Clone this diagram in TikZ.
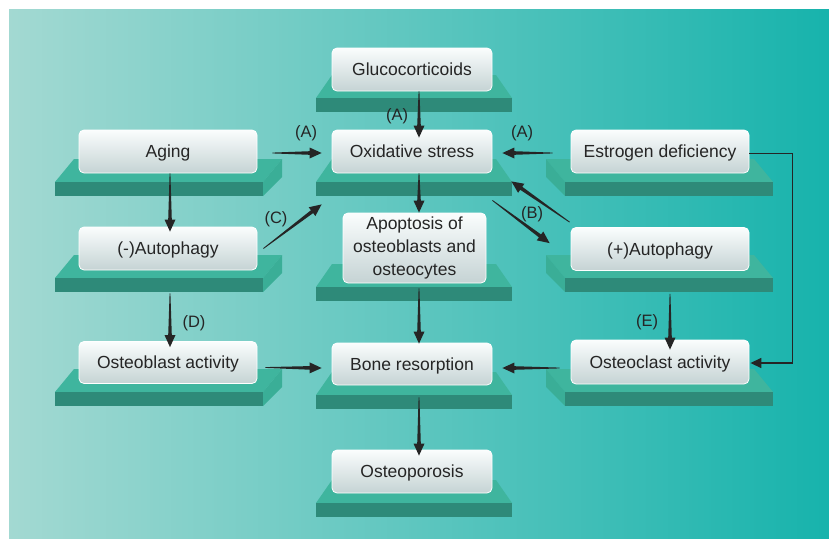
\documentclass[tikz,border=0pt]{standalone}
\usepackage{fontspec}
\setmainfont{Liberation Sans}
\usetikzlibrary{calc,arrows.meta}
\definecolor{bgL}{HTML}{A3D9D2}
\definecolor{bgM}{HTML}{5EC5BA}
\definecolor{bgR}{HTML}{17B3AC}
\definecolor{plfront}{HTML}{2E8A79}
\definecolor{pltop}{HTML}{3FB59E}
\definecolor{plside}{HTML}{3AAE97}
\definecolor{boxtop}{HTML}{FAFDFD}
\definecolor{boxbot}{HTML}{C5D3D4}
\definecolor{ink}{HTML}{252525}
\tikzset{
  box/.style={rounded corners=5pt, draw=white, line width=0.8pt, top color=boxtop, bottom color=boxbot,
    inner sep=0pt, align=center, text=ink, font=\fontsize{17.5}{23}\selectfont},
  oneline/.style={text height=16.5pt, text depth=4.5pt},
  lab/.style={text=ink, font=\fontsize{16.5}{20}\selectfont, inner sep=0pt},
  conn/.style={draw=ink, line width=1.4pt, -{Triangle[length=11pt,width=10pt]}},
}
% platforms: #1 front-left x, #2 front-right x, #3 front top y
\newcommand\platL[3]{%
  \fill[pltop] (#1,#3) -- (#2,#3) -- ({#2+19},{#3-23}) -- ({#1+19},{#3-23}) -- cycle;
  \fill[plside] (#2,#3) -- ({#2+19},{#3-23}) -- ({#2+19},{#3-5}) -- (#2,{#3+14}) -- cycle;
  \fill[plfront] (#1,#3) rectangle (#2,{#3+14});}
\newcommand\platR[3]{%
  \fill[pltop] (#1,#3) -- (#2,#3) -- ({#2-19},{#3-23}) -- ({#1-19},{#3-23}) -- cycle;
  \fill[plside] (#1,#3) -- ({#1-19},{#3-23}) -- ({#1-19},{#3-5}) -- (#1,{#3+14}) -- cycle;
  \fill[plfront] (#1,#3) rectangle (#2,{#3+14});}
\newcommand\platC[3]{%
  \fill[pltop] (#1,#3) -- (#2,#3) -- ({#2-16},{#3-23}) -- ({#1+16},{#3-23}) -- cycle;
  \fill[plfront] (#1,#3) rectangle (#2,{#3+14});}
% tapered arrow
\newcommand\tarrow[2]{%
  \path #1 coordinate (ta-s);
  \path #2 coordinate (ta-e);
  \path ($(ta-e)!12pt!(ta-s)$) coordinate (ta-c);
  \fill[ink] ($(ta-s)!0.4pt!90:(ta-e)$) -- ($(ta-c)!1.8pt!90:(ta-e)$) -- ($(ta-c)!5.5pt!90:(ta-e)$)
    -- (ta-e) -- ($(ta-c)!5.5pt!-90:(ta-e)$) -- ($(ta-c)!1.8pt!-90:(ta-e)$)
    -- ($(ta-s)!0.4pt!-90:(ta-e)$) -- cycle;}
\begin{document}
\begin{tikzpicture}[x=1pt,y=-1pt]
\useasboundingbox (0,0) rectangle (829,538);
\fill[white] (0,0) rectangle (829,538);
\shade[left color=bgL, middle color=bgM, right color=bgR] (9,9) rectangle (829,538);

% platforms
\platC{316}{512}{98}
\platC{316}{512}{182}
\platC{316}{512}{287}
\platC{316}{512}{395}
\platC{316}{512}{503}
\platL{55}{263}{182}
\platL{55}{263}{278}
\platL{55}{263}{392}
\platR{565}{773}{182}
\platR{565}{773}{278}
\platR{565}{773}{392}

% boxes
\node[box, oneline, minimum width=160pt, minimum height=43pt] (gluc) at (412,69.5) {Glucocorticoids};
\node[box, oneline, minimum width=160pt, minimum height=43pt] (ox) at (412,151.5) {Oxidative stress};
\node[box, minimum width=143pt, minimum height=70pt] (apop) at (414.5,248) {Apoptosis of\\osteoblasts and\\osteocytes};
\node[box, oneline, minimum width=160pt, minimum height=42pt] (bone) at (412,364) {Bone resorption};
\node[box, oneline, minimum width=160pt, minimum height=43pt] (osteop) at (412,471.5) {Osteoporosis};
\node[box, oneline, minimum width=178pt, minimum height=43pt] (aging) at (168,151.5) {Aging};
\node[box, oneline, minimum width=178pt, minimum height=43pt] (nauto) at (168,248.5) {(-)Autophagy};
\node[box, oneline, minimum width=178pt, minimum height=42pt] (oblast) at (168,362.5) {Osteoblast activity};
\node[box, oneline, minimum width=178pt, minimum height=43pt] (estr) at (660,151.5) {Estrogen deficiency};
\node[box, oneline, minimum width=178pt, minimum height=43pt] (pauto) at (660,249) {(+)Autophagy};
\node[box, oneline, minimum width=178pt, minimum height=44pt] (oclast) at (660,362) {Osteoclast activity};

% connectors
\tarrow{($(gluc.south)+(7,0)$)}{($(ox.north)+(7,8)$)}
\tarrow{($(aging.east)+(15,1.5)$)}{($(ox.west)+(-10,1.5)$)}
\tarrow{($(estr.west)+(-18,1.5)$)}{($(ox.east)+(10,1.5)$)}
\tarrow{($(ox.south)+(7,0)$)}{($(apop.north)+(4.5,0)$)}
\tarrow{($(aging.south)+(2,0)$)}{($(nauto.north)+(2,5)$)}
\tarrow{($(nauto.east)+(6,0)$)}{($(ox.south west)+(-10,31)$)}
\tarrow{($(ox.south east)+(0,27)$)}{($(pauto.north west)+(-21,16)$)}
\tarrow{($(pauto.north west)+(-1,-5)$)}{($(ox.south east)+(19,8)$)}
\tarrow{($(nauto.south)+(2,23)$)}{($(oblast.north)+(2,6)$)}
\tarrow{($(pauto.south)+(10,23)$)}{($(oclast.north)+(10,10)$)}
\tarrow{($(oblast.east)+(8,5)$)}{($(bone.west)+(-10,4)$)}
\tarrow{($(oclast.west)+(-11,6)$)}{($(bone.east)+(10,4)$)}
\tarrow{($(apop.south)+(4.5,5)$)}{($(bone.north)+(7,1)$)}
\tarrow{($(bone.south)+(7,12)$)}{($(osteop.north)+(7,6)$)}
\draw[conn] ($(estr.east)+(0,2)$) -| ($(oclast.east)+(43,1)$) -- ($(oclast.east)+(1,1)$);

% labels
\node[lab] (la1) at (397,116) {(A)};
\node[lab] (la2) at (306,133) {(A)};
\node[lab] (la3) at (522,133) {(A)};
\node[lab] (lc) at (276,219) {(C)};
\node[lab] (lb) at (532,214) {(B)};
\node[lab] (ld) at (194,323) {(D)};
\node[lab] (le) at (647,322) {(E)};
\end{tikzpicture}
\end{document}
